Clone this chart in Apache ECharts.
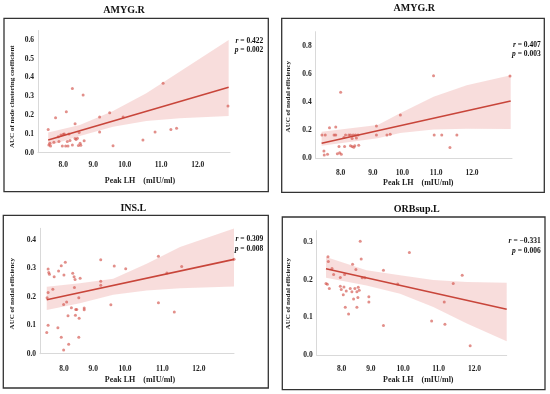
<!DOCTYPE html>
<html><head><meta charset="utf-8">
<script src="https://cdn.jsdelivr.net/npm/echarts@6/dist/echarts.min.js"></script>
<style>html,body{margin:0;padding:0;background:#fff}#c{width:550px;height:394px}</style>
</head><body><div id="c"></div>
<script>
// ---------- data ----------
const xTickLabels = ['8.0', '9.0', '10.0', '11.0', '12.0'];
const titles = ['AMYG.R', 'AMYG.R', 'INS.L', 'ORBsup.L'];
const yNames = ['AUC of node clustering coefficient', 'AUC of nodal efficiency', 'AUC of nodal efficiency', 'AUC of nodal efficiency'];
const xName = 'Peak LH    (mIU/ml)';
const rValues = ['0.422', '0.407', '0.309', '\u22120.331'];
const pValues = ['0.002', '0.003', '0.008', '0.006'];

// panel 1: AMYG.R clustering coefficient
const ptsAmygClust = [[7.55,0.124],[7.57,0.041],[7.6,0.05],[7.62,0.036],[7.72,0.055],[7.77,0.186],[7.85,0.085],[7.87,0.059],[7.93,0.094],[7.97,0.036],[8.0,0.098],[8.03,0.1],[8.07,0.036],[8.09,0.218],[8.12,0.06],[8.14,0.036],[8.17,0.099],[8.2,0.065],[8.27,0.342],[8.27,0.041],[8.35,0.154],[8.35,0.075],[8.38,0.07],[8.42,0.077],[8.45,0.038],[8.47,0.108],[8.5,0.05],[8.52,0.04],[8.59,0.307],[8.62,0.064],[9.08,0.19],[9.08,0.11],[9.38,0.213],[9.48,0.037],[9.78,0.19],[10.37,0.067],[10.73,0.11],[10.97,0.369],[11.2,0.124],[11.37,0.13],[12.9,0.248]];
const fitAmygClust = [[7.55,0.067],[12.92,0.348]];
const bandXAmygClust = [7.55, 8.49, 9.48, 10.47, 11.46, 12.92];
const bandLoAmygClust = [0.037, 0.089, 0.138, 0.168, 0.183, 0.195];
const bandHiAmygClust = [0.108, 0.147, 0.222, 0.316, 0.431, 0.599];

// panel 2: AMYG.R nodal efficiency
const ptsAmygNodal = [[7.43,0.166],[7.49,0.052],[7.5,0.024],[7.53,0.166],[7.6,0.029],[7.66,0.218],[7.8,0.166],[7.85,0.222],[7.85,0.166],[7.9,0.032],[7.95,0.083],[7.97,0.04],[8.0,0.469],[8.02,0.028],[8.1,0.147],[8.12,0.083],[8.15,0.166],[8.25,0.166],[8.3,0.166],[8.3,0.09],[8.35,0.14],[8.35,0.084],[8.38,0.166],[8.4,0.078],[8.43,0.09],[8.45,0.166],[8.48,0.145],[8.53,0.166],[8.55,0.092],[9.09,0.23],[9.09,0.166],[9.41,0.166],[9.51,0.171],[9.82,0.308],[10.83,0.587],[10.85,0.166],[11.08,0.166],[11.33,0.076],[11.54,0.166],[13.16,0.585]];
const fitAmygNodal = [[7.42,0.107],[13.18,0.407]];
const bandXAmygNodal = [7.42, 9.13, 9.81, 10.83, 11.84, 13.18];
const bandLoAmygNodal = [0.09, 0.142, 0.18, 0.205, 0.21, 0.208];
const bandHiAmygNodal = [0.189, 0.237, 0.32, 0.438, 0.52, 0.59];

// panel 3: INS.L nodal efficiency
const ptsInsNodal = [[7.49,0.074],[7.5,0.196],[7.53,0.297],[7.53,0.215],[7.53,0.1],[7.55,0.285],[7.57,0.279],[7.67,0.226],[7.71,0.27],[7.82,0.091],[7.84,0.29],[7.92,0.309],[7.92,0.058],[7.99,0.173],[7.99,0.013],[8.0,0.276],[8.04,0.321],[8.08,0.181],[8.12,0.133],[8.14,0.033],[8.22,0.161],[8.26,0.282],[8.3,0.27],[8.31,0.232],[8.33,0.26],[8.34,0.135],[8.35,0.155],[8.38,0.155],[8.44,0.196],[8.44,0.058],[8.45,0.124],[8.48,0.265],[8.6,0.16],[8.6,0.154],[9.09,0.33],[9.09,0.254],[9.09,0.24],[9.39,0.172],[9.49,0.308],[9.83,0.298],[10.8,0.342],[10.8,0.179],[11.05,0.283],[11.27,0.146],[11.49,0.306],[13.04,0.331]];
const fitInsNodal = [[7.49,0.189],[13.04,0.331]];
const bandXInsNodal = [7.49, 8.47, 9.46, 10.45, 11.44, 13.04];
const bandLoInsNodal = [0.153, 0.177, 0.207, 0.222, 0.23, 0.236];
const bandHiInsNodal = [0.235, 0.247, 0.263, 0.316, 0.374, 0.439];

// panel 4: ORBsup.L nodal efficiency
const ptsOrbNodal = [[7.53,0.19],[7.57,0.188],[7.59,0.261],[7.6,0.248],[7.63,0.177],[7.71,0.23],[7.76,0.214],[7.96,0.206],[7.96,0.183],[7.99,0.174],[8.05,0.16],[8.07,0.181],[8.09,0.214],[8.11,0.127],[8.14,0.17],[8.21,0.109],[8.26,0.177],[8.31,0.168],[8.33,0.241],[8.36,0.149],[8.4,0.177],[8.43,0.227],[8.46,0.127],[8.46,0.168],[8.49,0.153],[8.5,0.18],[8.53,0.172],[8.56,0.302],[8.59,0.255],[8.62,0.205],[8.7,0.205],[8.82,0.155],[8.82,0.141],[9.26,0.225],[9.26,0.079],[9.69,0.189],[10.04,0.272],[10.71,0.091],[11.09,0.141],[11.11,0.082],[11.36,0.19],[11.63,0.212],[11.87,0.025]];
const fitOrbNodal = [[7.53,0.229],[12.97,0.122]];
const bandXOrbNodal = [7.53, 8.75, 9.76, 10.76, 11.77, 12.97];
const bandLoOrbNodal = [0.205, 0.185, 0.163, 0.128, 0.084, 0.037];
const bandHiOrbNodal = [0.26, 0.225, 0.212, 0.199, 0.194, 0.192];

const panelData = [
  {pts: ptsAmygClust, fit: fitAmygClust, bx: bandXAmygClust, lo: bandLoAmygClust, hi: bandHiAmygClust},
  {pts: ptsAmygNodal, fit: fitAmygNodal, bx: bandXAmygNodal, lo: bandLoAmygNodal, hi: bandHiAmygNodal},
  {pts: ptsInsNodal, fit: fitInsNodal, bx: bandXInsNodal, lo: bandLoInsNodal, hi: bandHiInsNodal},
  {pts: ptsOrbNodal, fit: fitOrbNodal, bx: bandXOrbNodal, lo: bandLoOrbNodal, hi: bandHiOrbNodal}
];

// ---------- layout ----------
const layout = [
  {box:[4,18.3,264.3,173.4], L:38, R:230, T:30.5, B:152.7, xmin:7.247, xmax:12.96, ymax:0.65, yInt:0.1, xTicks:[8,8.89,9.83,10.91,12], xMargin:8.3, title:[124,10], yName:[12.3,96.7], xName:[140,181], stat:[263.3,40.7,50]},
  {box:[281.7,18.3,262.6,174], L:315.7, R:512, T:31.7, B:158.3, xmin:7.24, xmax:13.22, ymax:0.9, yInt:0.2, xTicks:[8,8.98,9.88,10.91,12], xMargin:11, title:[414.3,8], yName:[288.3,96.7], xName:[418.3,183.3], stat:[540.7,45,54.3]},
  {box:[3.3,215.3,265,172.7], L:40, R:234, T:228.3, B:353.7, xmin:7.29, xmax:13.04, ymax:0.44, yInt:0.1, xTicks:[8,8.87,9.81,10.92,12], xMargin:11.5, title:[133.3,208.7], yName:[11.7,293.7], xName:[140,379.7], stat:[263.3,239.3,248.7]},
  {box:[282.3,217,262.7,172.7], L:316.7, R:506.7, T:230.6, B:355.3, xmin:7.25, xmax:12.97, ymax:0.33, yInt:0.1, xTicks:[8,8.88,9.85,10.92,12], xMargin:9.4, title:[416.7,209.3], yName:[288.3,293.7], xName:[418.3,379.7], stat:[540.7,241.3,251]}
];

const FONT = '"Liberation Serif", "Times New Roman", serif';
const grids = [], xAxes = [], yAxes = [], series = [], graphics = [];

layout.forEach((p, i) => {
  const d = panelData[i];
  grids.push({left: p.L, top: p.T, width: p.R - p.L, height: p.B - p.T, containLabel: false});
  const yVals = [];
  for (let k = 0; k * p.yInt <= p.ymax + 1e-9; k++) yVals.push(+(k * p.yInt).toFixed(2));
  xAxes.push({
    type: 'value', gridIndex: i, min: p.xmin, max: p.xmax,
    axisLine: {show: true, lineStyle: {color: '#d9d9d9', width: 1}},
    axisTick: {show: false}, splitLine: {show: false},
    axisLabel: {
      customValues: p.xTicks, margin: p.xMargin,
      fontFamily: FONT, fontWeight: 'bold', fontSize: 7.5, color: '#222',
      formatter: v => {
        let best = 0;
        p.xTicks.forEach((t, k) => { if (Math.abs(t - v) < Math.abs(p.xTicks[best] - v)) best = k; });
        return xTickLabels[best];
      }
    }
  });
  yAxes.push({
    type: 'value', gridIndex: i, min: 0, max: p.ymax,
    axisLine: {show: true, lineStyle: {color: '#d9d9d9', width: 1}},
    axisTick: {show: false}, splitLine: {show: false},
    axisLabel: {
      customValues: yVals, margin: 4,
      fontFamily: FONT, fontWeight: 'bold', fontSize: 7.5, color: '#222',
      formatter: v => v.toFixed(1)
    }
  });
  // confidence band
  series.push({
    type: 'custom', xAxisIndex: i, yAxisIndex: i, silent: true, z: 1,
    data: [[d.bx[0], d.lo[0]]],
    renderItem: (params, api) => {
      const pts = [];
      d.bx.forEach((x, k) => pts.push(api.coord([x, d.hi[k]])));
      for (let k = d.bx.length - 1; k >= 0; k--) pts.push(api.coord([d.bx[k], d.lo[k]]));
      return {type: 'polygon', shape: {points: pts}, style: {fill: 'rgba(236,160,158,0.36)'}};
    }
  });
  // regression line
  series.push({
    type: 'line', xAxisIndex: i, yAxisIndex: i, data: d.fit, symbol: 'none', silent: true, z: 3,
    lineStyle: {color: '#c8453a', width: 1.6}
  });
  // scatter points
  series.push({
    type: 'scatter', xAxisIndex: i, yAxisIndex: i, data: d.pts, symbol: 'circle', symbolSize: 3, z: 2,
    itemStyle: {color: 'rgba(210,80,72,0.8)'}
  });
  // texts
  graphics.push({type: 'rect', shape: {x: p.box[0], y: p.box[1], width: p.box[2], height: p.box[3]},
    style: {fill: 'none', stroke: '#333', lineWidth: 1.3}, z: 0});
  graphics.push({type: 'text', x: p.title[0], y: p.title[1],
    style: {text: titles[i], font: 'bold 10px ' + FONT, fill: '#111', align: 'center', verticalAlign: 'middle'}});
  graphics.push({type: 'text', x: p.yName[0], y: p.yName[1], rotation: Math.PI / 2,
    style: {text: yNames[i], font: 'bold 7px ' + FONT, fill: '#222', align: 'center', verticalAlign: 'middle'}});
  graphics.push({type: 'text', x: p.xName[0], y: p.xName[1],
    style: {text: xName, font: 'bold 8px ' + FONT, fill: '#222', align: 'center', verticalAlign: 'middle'}});
  graphics.push({type: 'text', x: p.stat[0], y: p.stat[1],
    style: {text: '{i|r} = ' + rValues[i], font: 'bold 7.5px ' + FONT, fill: '#111', align: 'right', verticalAlign: 'middle',
      rich: {i: {fontStyle: 'italic', fontWeight: 'bold', fontSize: 7.5, fontFamily: FONT}}}});
  graphics.push({type: 'text', x: p.stat[0], y: p.stat[2],
    style: {text: '{i|p} = ' + pValues[i], font: 'bold 7.5px ' + FONT, fill: '#111', align: 'right', verticalAlign: 'middle',
      rich: {i: {fontStyle: 'italic', fontWeight: 'bold', fontSize: 7.5, fontFamily: FONT}}}});
});

const chart = echarts.init(document.getElementById('c'), null, {renderer: 'canvas'});
chart.setOption({
  backgroundColor: '#fff', animation: false,
  grid: grids, xAxis: xAxes, yAxis: yAxes, series: series, graphic: graphics
});
</script></body></html>
